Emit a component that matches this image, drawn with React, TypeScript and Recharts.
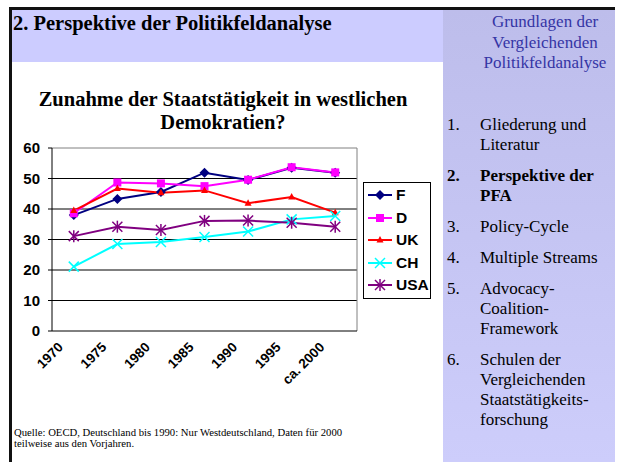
import React from 'react';
import {
  LineChart,
  Line,
  XAxis,
  YAxis,
  CartesianGrid,
  ReferenceLine,
  Legend,
} from 'recharts';

const years = ['1970', '1975', '1980', '1985', '1990', '1995', 'ca. 2000'];
const franceValues = [38.0, 43.3, 45.6, 51.9, 49.5, 53.5, 51.9];
const germanyValues = [38.6, 48.7, 48.4, 47.5, 49.6, 53.7, 52.0];
const ukValues = [39.5, 46.7, 45.3, 46.1, 41.9, 43.9, 38.8];
const switzerlandValues = [21.1, 28.5, 29.2, 30.8, 32.6, 36.6, 37.7];
const usaValues = [31.1, 34.2, 33.1, 36.1, 36.2, 35.5, 34.2];
const yTicks = [0, 10, 20, 30, 40, 50, 60];

const menuItems = [
  { num: '1.', lines: ['Gliederung und', 'Literatur'], bold: false },
  { num: '2.', lines: ['Perspektive der', 'PFA'], bold: true },
  { num: '3.', lines: ['Policy-Cycle'], bold: false },
  { num: '4.', lines: ['Multiple Streams'], bold: false },
  { num: '5.', lines: ['Advocacy-', 'Coalition-', 'Framework'], bold: false },
  { num: '6.', lines: ['Schulen der', 'Vergleichenden', 'Staatstätigkeits-', 'forschung'], bold: false },
];

type Shape = 'diamond' | 'square' | 'triangle' | 'cross' | 'star';

const series: { key: string; name: string; color: string; shape: Shape; values: number[] }[] = [
  { key: 'F', name: 'F', color: '#000080', shape: 'diamond', values: franceValues },
  { key: 'D', name: 'D', color: '#ff00ff', shape: 'square', values: germanyValues },
  { key: 'UK', name: 'UK', color: '#ff0000', shape: 'triangle', values: ukValues },
  { key: 'CH', name: 'CH', color: '#00ffff', shape: 'cross', values: switzerlandValues },
  { key: 'USA', name: 'USA', color: '#800080', shape: 'star', values: usaValues },
];

const data = years.map((year, i) => {
  const row: any = { year, pos: i + 0.5 };
  series.forEach((s) => {
    row[s.key] = s.values[i];
  });
  return row;
});

const serif = '"Liberation Serif", "Times New Roman", serif';
const sans = '"Liberation Sans", Arial, sans-serif';

const Marker = ({ shape, cx, cy, color }: { shape: Shape; cx: number; cy: number; color: string }) => {
  if (cx == null || cy == null) return null;
  switch (shape) {
    case 'diamond':
      return (
        <polygon
          points={`${cx},${cy - 5} ${cx + 5},${cy} ${cx},${cy + 5} ${cx - 5},${cy}`}
          fill={color}
        />
      );
    case 'square':
      return <rect x={cx - 4} y={cy - 4} width={8} height={8} fill={color} />;
    case 'triangle':
      return (
        <polygon
          points={`${cx},${cy - 4} ${cx + 3.5},${cy + 2.5} ${cx - 3.5},${cy + 2.5}`}
          fill={color}
        />
      );
    case 'cross':
      return (
        <g stroke={color} strokeWidth={1.5}>
          <line x1={cx - 5} y1={cy - 5} x2={cx + 5} y2={cy + 5} />
          <line x1={cx - 5} y1={cy + 5} x2={cx + 5} y2={cy - 5} />
        </g>
      );
    case 'star':
    default:
      return (
        <g stroke={color} strokeWidth={1.5}>
          <line x1={cx - 5} y1={cy - 5} x2={cx + 5} y2={cy + 5} />
          <line x1={cx - 5} y1={cy + 5} x2={cx + 5} y2={cy - 5} />
          <line x1={cx} y1={cy - 6} x2={cx} y2={cy + 6} />
        </g>
      );
  }
};

const makeDot = (shape: Shape, color: string) => (props: any) => (
  <Marker key={`${shape}-${props.index}`} shape={shape} cx={props.cx} cy={props.cy} color={color} />
);

const YearTick = (props: any) => {
  const { x, y, payload } = props;
  const label = years[Math.floor(payload.value)];
  const px = x - 10;
  const py = y + 15;
  return (
    <text
      x={px}
      y={py}
      transform={`rotate(-45, ${px}, ${py})`}
      textAnchor="end"
      fill="#000"
      fontFamily={sans}
      fontWeight={700}
      fontSize={13.5}
    >
      {label}
    </text>
  );
};

const renderLegend = () => (
  <div
    style={{
      width: 66,
      border: '1px solid #000',
      background: '#fff',
      paddingTop: 1,
      paddingBottom: 1,
    }}
  >
    {series.map((s) => (
      <div key={s.key} style={{ height: 22.5, display: 'flex', alignItems: 'center' }}>
        <svg width={26} height={14} style={{ marginLeft: 3 }}>
          <line x1={1} x2={25} y1={7} y2={7} stroke={s.color} strokeWidth={2} />
          <Marker shape={s.shape} cx={13} cy={7} color={s.color} />
        </svg>
        <span
          style={{
            marginLeft: 3,
            fontFamily: sans,
            fontWeight: 700,
            fontSize: 15.5,
            color: '#000',
            lineHeight: '16px',
          }}
        >
          {s.name}
        </span>
      </div>
    ))}
  </div>
);

export default function App() {
  return (
    <div
      style={{
        position: 'absolute',
        left: 0,
        top: 0,
        width: 620,
        height: 462,
        background: '#fff',
        overflow: 'hidden',
        fontFamily: serif,
      }}
    >
      {/* header band and sidebar */}
      <div style={{ position: 'absolute', left: 12, top: 10, width: 431, height: 52, background: '#ccccff' }} />
      <div
        style={{
          position: 'absolute',
          left: 443,
          top: 10,
          width: 172,
          height: 452,
          background: 'linear-gradient(#bdbdeb, #cdcdfb)',
        }}
      />
      <div style={{ position: 'absolute', left: 9, top: 7, width: 606, height: 3, background: '#111' }} />
      <div style={{ position: 'absolute', left: 9, top: 7, width: 3, height: 455, background: '#111' }} />

      <div style={{ position: 'absolute', left: 13, top: 12, fontSize: 20.5, fontWeight: 700, color: '#000', whiteSpace: 'nowrap' }}>
        2. Perspektive der Politikfeldanalyse
      </div>

      <div
        style={{
          position: 'absolute',
          left: 460,
          top: 12,
          width: 170,
          textAlign: 'center',
          fontSize: 17,
          lineHeight: '20.5px',
          color: '#3535a5',
        }}
      >
        <div>Grundlagen der</div>
        <div>Vergleichenden</div>
        <div>Politikfeldanalyse</div>
      </div>

      <div style={{ position: 'absolute', left: 447, top: 115, width: 168, fontSize: 17, lineHeight: '20px', color: '#000' }}>
        {menuItems.map((item) => (
          <div key={item.num} style={{ display: 'flex', marginBottom: 11, fontWeight: item.bold ? 700 : 400 }}>
            <div style={{ width: 33 }}>{item.num}</div>
            <div>
              {item.lines.map((l) => (
                <div key={l} style={{ whiteSpace: 'nowrap' }}>{l}</div>
              ))}
            </div>
          </div>
        ))}
      </div>

      {/* chart title */}
      <div
        style={{
          position: 'absolute',
          left: 23,
          top: 88,
          width: 400,
          textAlign: 'center',
          fontSize: 20.5,
          fontWeight: 700,
          lineHeight: '23px',
          color: '#000',
        }}
      >
        <div style={{ whiteSpace: 'nowrap' }}>Zunahme der Staatstätigkeit in westlichen</div>
        <div>Demokratien?</div>
      </div>

      <div style={{ position: 'absolute', left: 0, top: 130, width: 440, height: 270 }}>
        <LineChart width={440} height={270} data={data} margin={{ top: 18, right: 83, left: 0, bottom: 29 }}>
          <CartesianGrid vertical={false} horizontalValues={[10, 20, 30, 40, 50]} stroke="#000" strokeWidth={1} />
          <XAxis
            xAxisId="bounds"
            type="number"
            dataKey="pos"
            domain={[0, 7]}
            ticks={[0, 1, 2, 3, 4, 5, 6, 7]}
            tick={false}
            tickSize={4}
            axisLine={false}
            tickLine={{ stroke: '#000' }}
            height={0}
          />
          <XAxis
            type="number"
            dataKey="pos"
            domain={[0, 7]}
            ticks={[0.5, 1.5, 2.5, 3.5, 4.5, 5.5, 6.5]}
            tick={<YearTick />}
            tickLine={false}
            tickSize={0}
            axisLine={{ stroke: '#000' }}
            height={40}
            interval={0}
          />
          <YAxis
            domain={[0, 60]}
            ticks={yTicks}
            width={52}
            tickSize={4}
            tickMargin={8}
            interval={0}
            axisLine={{ stroke: '#000' }}
            tickLine={{ stroke: '#000' }}
            tick={{ fill: '#000', fontSize: 15, fontWeight: 700, fontFamily: sans }}
          />
          <ReferenceLine y={60} stroke="#808080" />
          <ReferenceLine x={7} stroke="#808080" />
          <Legend
            layout="vertical"
            align="center"
            verticalAlign="middle"
            wrapperStyle={{ left: 363, top: 52, width: 68 }}
            content={renderLegend}
          />
          {series.map((s) => (
            <Line
              key={s.key}
              dataKey={s.key}
              name={s.name}
              stroke={s.color}
              strokeWidth={2}
              type="linear"
              dot={makeDot(s.shape, s.color)}
              activeDot={false}
              isAnimationActive={false}
            />
          ))}
        </LineChart>
      </div>

      <div style={{ position: 'absolute', left: 14, top: 427, fontSize: 10.7, lineHeight: '11px', color: '#000' }}>
        <div style={{ whiteSpace: 'nowrap' }}>Quelle: OECD, Deutschland bis 1990: Nur Westdeutschland, Daten für 2000</div>
        <div>teilweise aus den Vorjahren.</div>
      </div>
    </div>
  );
}
